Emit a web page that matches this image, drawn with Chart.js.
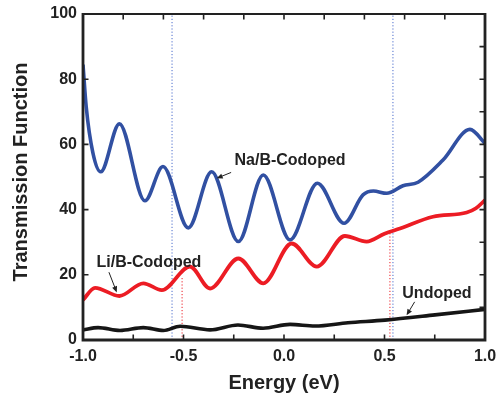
<!DOCTYPE html>
<html>
<head>
<meta charset="utf-8">
<script src="https://cdn.jsdelivr.net/npm/chart.js@4/dist/chart.umd.min.js"></script>
<style>
  html, body { margin: 0; padding: 0; background: #fff; }
  #wrap { width: 497px; height: 402px; }
</style>
</head>
<body>
<div id="wrap"><canvas id="c" width="497" height="402"></canvas></div>
<script>
// Transmission function T(E) for the three systems
const naEnergy = [-1.0, -0.984, -0.951, -0.912, -0.819, -0.692, -0.602, -0.476, -0.36, -0.227, -0.103, 0.030, 0.166, 0.299, 0.393, 0.445, 0.511, 0.592, 0.667, 0.791, 0.925, 1.0];
const naT      = [84.5, 71.5, 57.5, 51.6, 66.3, 42.7, 53.2, 34.4, 51.6, 30.2, 50.6, 30.7, 48.1, 35.8, 44.5, 45.7, 45.0, 47.3, 48.4, 55.2, 64.6, 60.3];

const liEnergy = [-1.0, -0.94, -0.819, -0.70, -0.608, -0.468, -0.368, -0.227, -0.103, 0.038, 0.163, 0.303, 0.411, 0.50, 0.577, 0.741, 0.909, 0.955, 1.0];
const liT      = [12.3, 16.0, 13.5, 17.4, 15.3, 22.5, 15.8, 25.0, 17.4, 29.6, 22.5, 31.9, 30.2, 32.6, 34.2, 37.8, 39.1, 40.4, 42.9];

const unEnergy = [-1.0, -0.925, -0.816, -0.70, -0.60, -0.517, -0.368, -0.229, -0.104, 0.03, 0.154, 0.318, 0.502, 0.751, 1.0];
const unT      = [3.1, 3.8, 2.9, 3.8, 2.9, 4.2, 3.1, 4.6, 3.6, 4.8, 4.3, 5.3, 6.1, 7.7, 9.4];

// Reference energies: full-height (blue) and drop-lines to the Li/B curve (red)
const blueMarkE = [-0.557, 0.542];
const redMarkE  = [-0.507, 0.527];
const redMarkT  = [19.3, 33.2];

// Axis tick positions
const xLabelTicks  = [-1.0, -0.5, 0.0, 0.5, 1.0];
const yLabelTicks  = [0, 20, 40, 60, 80, 100];
const xBottomTicks = [-0.75, -0.5, -0.25, 0, 0.25, 0.5, 0.75];
const xTopTicks    = [-0.8, -0.6, -0.4, -0.2, 0, 0.2, 0.4, 0.6, 0.8];
const yLeftTicks   = [20, 40, 60, 80];
const yRightTicks  = [10, 20, 30, 40, 50, 60, 70, 80, 90];

// Curve labels: text anchor and arrow (tail -> head), in data units
const curveLabels = [
  { text: 'Na/B-Codoped', at: [0.03, 54.9],  tail: [-0.263, 51.4], head: [-0.335, 49.6] },
  { text: 'Li/B-Codoped', at: [-0.672, 23.6], tail: [-0.871, 20.8], head: [-0.832, 14.6] },
  { text: 'Undoped',      at: [0.761, 14.1],  tail: [0.650, 11.7],  head: [0.610, 7.6] }
];

const FONT = '"Liberation Sans", Arial, Helvetica, sans-serif';
const pts = (xs, ys) => xs.map((x, i) => ({ x, y: ys[i] }));

const datasets = [
  { label: 'Na/B-Codoped', data: pts(naEnergy, naT), borderColor: '#3150a2', borderWidth: 3.6, order: 1 },
  { label: 'Li/B-Codoped', data: pts(liEnergy, liT), borderColor: '#ec1c24', borderWidth: 3.8, order: 1 },
  { label: 'Undoped',      data: pts(unEnergy, unT), borderColor: '#161616', borderWidth: 3.6, order: 1 }
].map(d => Object.assign(d, { showLine: true, pointRadius: 0, cubicInterpolationMode: 'monotone', fill: false }));

blueMarkE.forEach(e => datasets.push({
  data: [{ x: e, y: 0 }, { x: e, y: 100 }], showLine: true, pointRadius: 0,
  borderColor: '#4a6ccc', borderWidth: 1, borderDash: [1.2, 2], order: 10
}));
redMarkE.forEach((e, i) => datasets.push({
  data: [{ x: e, y: 0 }, { x: e, y: redMarkT[i] }], showLine: true, pointRadius: 0,
  borderColor: '#ec1c24', borderWidth: 1, borderDash: [1.2, 2], order: 10
}));

function arrow(ctx, x0, y0, x1, y1) {
  const ang = Math.atan2(y1 - y0, x1 - x0);
  const hl = 6, hw = 2.6;
  ctx.beginPath();
  ctx.moveTo(x0, y0);
  ctx.lineTo(x1 - Math.cos(ang) * hl * 0.8, y1 - Math.sin(ang) * hl * 0.8);
  ctx.stroke();
  ctx.beginPath();
  ctx.moveTo(x1, y1);
  ctx.lineTo(x1 - Math.cos(ang) * hl + Math.sin(ang) * hw, y1 - Math.sin(ang) * hl - Math.cos(ang) * hw);
  ctx.lineTo(x1 - Math.cos(ang) * hl - Math.sin(ang) * hw, y1 - Math.sin(ang) * hl + Math.cos(ang) * hw);
  ctx.closePath();
  ctx.fill();
}

const framePlugin = {
  id: 'frame',
  afterDatasetsDraw(chart) {
    const { ctx, chartArea: a, scales: { x, y } } = chart;
    ctx.save();
    ctx.strokeStyle = '#222';
    ctx.fillStyle = '#222';
    ctx.lineWidth = 1.6;
    const tk = 5.5;
    ctx.beginPath();
    xBottomTicks.forEach(v => { const p = x.getPixelForValue(v); ctx.moveTo(p, a.bottom); ctx.lineTo(p, a.bottom - tk); });
    xTopTicks.forEach(v => { const p = x.getPixelForValue(v); ctx.moveTo(p, a.top); ctx.lineTo(p, a.top + tk); });
    yLeftTicks.forEach(v => { const p = y.getPixelForValue(v); ctx.moveTo(a.left, p); ctx.lineTo(a.left + tk, p); });
    yRightTicks.forEach(v => { const p = y.getPixelForValue(v); ctx.moveTo(a.right, p); ctx.lineTo(a.right - tk, p); });
    ctx.stroke();

    // axis box
    ctx.lineWidth = 2.2;
    ctx.beginPath();
    ctx.moveTo(a.left, a.top); ctx.lineTo(a.right, a.top);
    ctx.stroke();
    ctx.lineWidth = 2.8;
    ctx.beginPath();
    ctx.moveTo(a.right, a.top - 1); ctx.lineTo(a.right, a.bottom);
    ctx.moveTo(a.left, a.top - 1); ctx.lineTo(a.left, a.bottom); ctx.lineTo(a.right + 1.4, a.bottom);
    ctx.stroke();

    // curve labels
    ctx.font = 'bold 16px ' + FONT;
    ctx.textAlign = 'center';
    ctx.textBaseline = 'middle';
    ctx.lineWidth = 1;
    curveLabels.forEach(l => {
      ctx.fillText(l.text, x.getPixelForValue(l.at[0]), y.getPixelForValue(l.at[1]));
      arrow(ctx, x.getPixelForValue(l.tail[0]), y.getPixelForValue(l.tail[1]),
                 x.getPixelForValue(l.head[0]), y.getPixelForValue(l.head[1]));
    });
    ctx.restore();
  }
};

new Chart(document.getElementById('c'), {
  type: 'scatter',
  data: { datasets },
  options: {
    responsive: false,
    devicePixelRatio: 1,
    animation: false,
    layout: { padding: { left: 0, right: 12, top: 14, bottom: 0 } },
    plugins: { legend: { display: false }, tooltip: { enabled: false } },
    scales: {
      x: {
        type: 'linear', min: -1, max: 1,
        afterBuildTicks: s => { s.ticks = xLabelTicks.map(v => ({ value: v })); },
        afterFit: s => { s.height = 62; s.paddingLeft = 0; s.paddingRight = 0; },
        ticks: { callback: v => Number(v).toFixed(1), font: { family: FONT, size: 16, weight: 'bold' }, color: '#222', padding: 7, maxRotation: 0 },
        grid: { display: false, drawTicks: false, tickLength: 0 },
        border: { display: false },
        title: { display: true, text: 'Energy (eV)', font: { family: FONT, size: 20, weight: 'bold' }, color: '#222', padding: { top: 7, bottom: 7 } }
      },
      y: {
        type: 'linear', min: 0, max: 100,
        afterBuildTicks: s => { s.ticks = yLabelTicks.map(v => ({ value: v })); },
        afterFit: s => { s.width = 83; s.paddingTop = 0; s.paddingBottom = 0; },
        ticks: { font: { family: FONT, size: 16, weight: 'bold' }, color: '#222', padding: 6 },
        grid: { display: false, drawTicks: false, tickLength: 0 },
        border: { display: false },
        title: { display: true, text: '\u2002Transmission Function', font: { family: FONT, size: 20, weight: 'bold' }, color: '#222', padding: { top: 9, bottom: 9 } }
      }
    }
  },
  plugins: [framePlugin]
});
</script>
</body>
</html>
